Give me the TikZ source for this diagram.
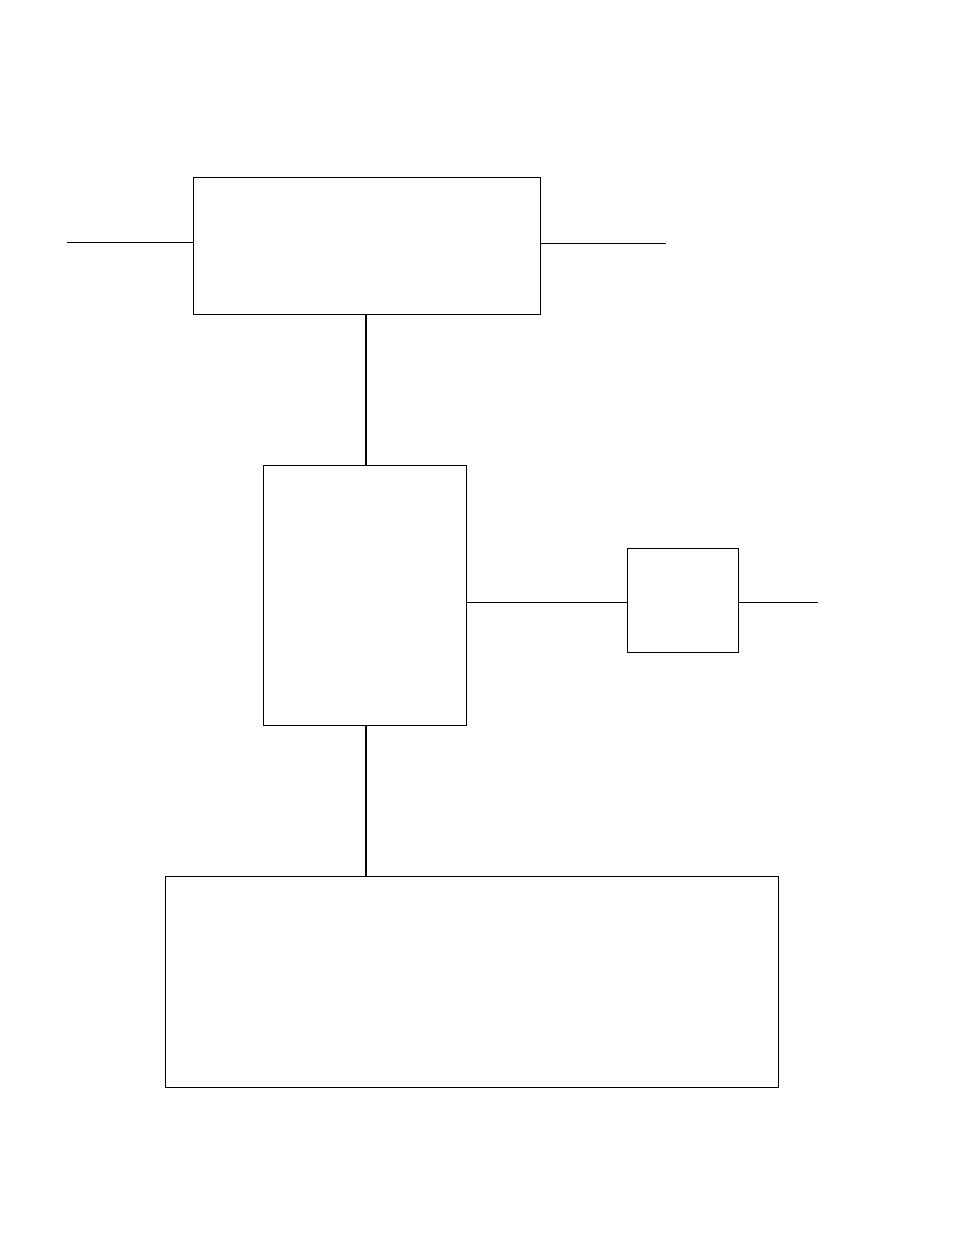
\documentclass[tikz,border=0pt]{standalone}
\begin{document}
\begin{tikzpicture}[x=1pt,y=-1pt,
  blockbox/.style={draw,rectangle,line width=1pt,inner sep=0pt,anchor=north west},
  thinwire/.style={line width=1pt},
  thickwire/.style={line width=2pt}]
\useasboundingbox (0,0) rectangle (954,1235);
\node[blockbox,minimum width=347pt,minimum height=137pt] (top) at (193,177) {};
\node[blockbox,minimum width=203pt,minimum height=260pt] (mid) at (263,465) {};
\node[blockbox,minimum width=111pt,minimum height=104pt] (small) at (627,548) {};
\node[blockbox,minimum width=613pt,minimum height=211pt] (bot) at (165,876) {};
\coordinate (inL) at (67,242);
\coordinate (outR) at (666,243);
\coordinate (outS) at (818,602);
\draw[thinwire] (inL) -- (inL -| top.west);
\draw[thinwire] (top.east |- outR) -- (outR);
\draw[thickwire] (top.south -| 366,0) -- (mid.north -| 366,0);
\draw[thickwire] (mid.south -| 366,0) -- (bot.north -| 366,0);
\draw[thinwire] (mid.east |- outS) -- (small.west |- outS);
\draw[thinwire] (small.east |- outS) -- (outS);
\end{tikzpicture}
\end{document}
